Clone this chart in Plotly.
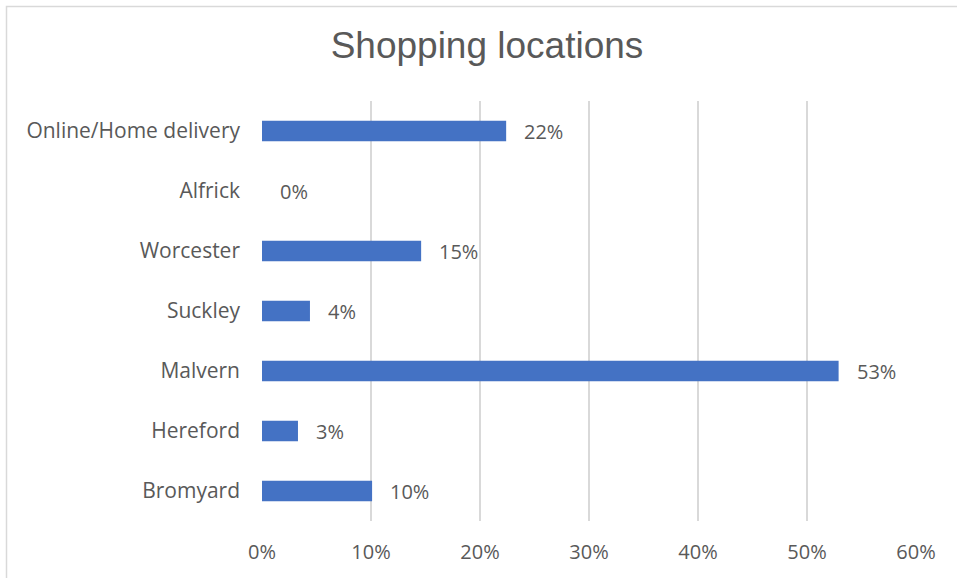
import plotly.graph_objects as go

categories = ["Online/Home delivery", "Alfrick", "Worcester", "Suckley", "Malvern", "Hereford", "Bromyard"]
values = [0.224, 0.0, 0.146, 0.044, 0.529, 0.033, 0.101]
x_ticks = [0, 0.1, 0.2, 0.3, 0.4, 0.5, 0.6]
x_tick_labels = ["0%", "10%", "20%", "30%", "40%", "50%", "60%"]
title_text = "Shopping locations"

W, H = 957, 578
L, R, T, B = 262, 41, 101, 57
pw, ph = W - L - R, H - T - B

CAT_FONT = dict(family="Open Sans, Noto Sans, sans-serif", size=21, color="#595959")
NUM_FONT = dict(family="Open Sans, Noto Sans, sans-serif", size=20, color="#595959")

fig = go.Figure()
fig.add_trace(go.Bar(
    y=categories, x=values, orientation="h",
    marker=dict(color="#4472C4", line=dict(width=0)),
    hoverinfo="skip",
))

for c, v in zip(categories, values):
    fig.add_annotation(
        x=v, y=c, xref="x", yref="y",
        text=f"{round(v*100):.0f}%", showarrow=False,
        xanchor="left", yanchor="middle", xshift=16,
        font=NUM_FONT,
    )

# chart border
def px_to_paper_x(px):
    return (px - L) / pw

def px_to_paper_y(py):
    return (H - B - py) / ph

fig.add_shape(
    type="rect", xref="paper", yref="paper",
    x0=px_to_paper_x(6.5), x1=px_to_paper_x(975),
    y0=px_to_paper_y(590), y1=px_to_paper_y(6.5),
    line=dict(color="#d9d9d9", width=1.5), fillcolor="rgba(0,0,0,0)", layer="below",
)

fig.update_layout(
    width=W, height=H,
    margin=dict(l=L, r=R, t=T, b=B, autoexpand=False),
    paper_bgcolor="white", plot_bgcolor="white",
    bargap=0.655,
    showlegend=False,
    title=dict(
        text=title_text, x=487 / W, xanchor="center", y=1 - 45 / H, yanchor="middle",
        font=dict(family="Liberation Sans, Arial, sans-serif", size=37, color="#595959"),
    ),
    xaxis=dict(
        range=[0, 0.6], tickvals=x_ticks, ticktext=x_tick_labels,
        showgrid=True, gridcolor="#d9d9d9", gridwidth=1.5,
        zeroline=False, showline=False, ticks="",
        tickfont=NUM_FONT, ticklabelstandoff=17,
        fixedrange=True,
    ),
    yaxis=dict(
        categoryorder="array", categoryarray=categories, autorange="reversed",
        showgrid=False, zeroline=False, showline=False, ticks="",
        tickfont=CAT_FONT, ticklabelstandoff=21,
        fixedrange=True,
    ),
)

fig.write_html(
    "out.html",
    config={"displayModeBar": False},
    post_script="document.body.style.margin='0';document.body.style.overflow='hidden';",
)
